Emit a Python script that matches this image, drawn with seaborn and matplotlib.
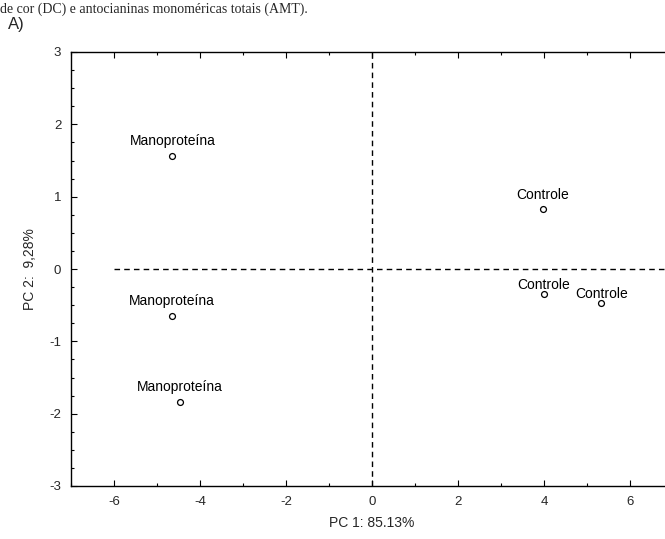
import matplotlib
matplotlib.use("Agg")
import matplotlib.pyplot as plt
from matplotlib.ticker import MultipleLocator
import seaborn as sns
import pandas as pd

# PCA scores (PC1, PC2) for each sample
labels = ["Manoproteína", "Manoproteína", "Manoproteína", "Controle", "Controle", "Controle"]
pc1 = [-4.64, -4.66, -4.47, 3.97, 4.0, 5.33]
pc2 = [1.56, -0.65, -1.84, 0.83, -0.35, -0.47]

xlabel = "PC 1: 85.13%"
ylabel = "PC 2:  9,28%"

df = pd.DataFrame({"label": labels, "PC1": pc1, "PC2": pc2})

sns.set_style("ticks")
plt.rcParams["font.family"] = ["Liberation Sans", "DejaVu Sans"]
plt.rcParams["axes.unicode_minus"] = False
plt.rcParams["xtick.direction"] = "in"
plt.rcParams["ytick.direction"] = "in"

W, H = 665, 539
fig = plt.figure(figsize=(W / 100, H / 100), dpi=100)
ax = fig.add_axes([71 / W, (H - 486) / H, 602 / W, 434 / H])

# reference lines through the origin
ax.plot([-6, 7], [0, 0], color="black", lw=1.0, ls=(0, (4, 3)), zorder=1)
ax.plot([0, 0], [-3, 3], color="black", lw=1.0, ls=(0, (4, 3)), zorder=1)

sns.scatterplot(data=df, x="PC1", y="PC2", ax=ax, marker="o", s=18,
                facecolor="white", edgecolor="black", linewidth=0.9, zorder=3)

# label lift above each marker, in pixels
lift_px = [11, 11, 11, 10, 5, 5]
for lab, x, y, d in zip(df["label"], df["PC1"], df["PC2"], lift_px):
    ax.annotate(lab, (x, y), xytext=(0, d * 72 / 100), textcoords="offset points",
                ha="center", va="baseline", fontsize=10, color="black")

ax.set_xlim(-7, 7)
ax.set_ylim(-3, 3)
ax.xaxis.set_major_locator(MultipleLocator(2))
ax.xaxis.set_minor_locator(MultipleLocator(1))
ax.yaxis.set_major_locator(MultipleLocator(1))
ax.yaxis.set_minor_locator(MultipleLocator(0.25))
ax.tick_params(which="both", top=True, right=True, direction="in", color="black")
ax.tick_params(which="major", length=4, width=0.8, labelsize=9.5, pad=7)
ax.tick_params(which="minor", length=2.5, width=0.8)

for sp in ax.spines.values():
    sp.set_color("black")
    sp.set_linewidth(1.0)

ax.set_xlabel(xlabel, fontsize=10, labelpad=6)
ax.set_ylabel(ylabel, fontsize=10, labelpad=9)

fig.text(8 / W, 1 - 29 / H, "A)", fontsize=12, ha="left", va="baseline")
fig.text(0, 1 - 13 / H, "de cor (DC) e antocianinas monoméricas totais (AMT).",
         fontsize=10, ha="left", va="baseline", family=["Liberation Serif", "DejaVu Serif"])

fig.savefig("out.png", dpi=100)
